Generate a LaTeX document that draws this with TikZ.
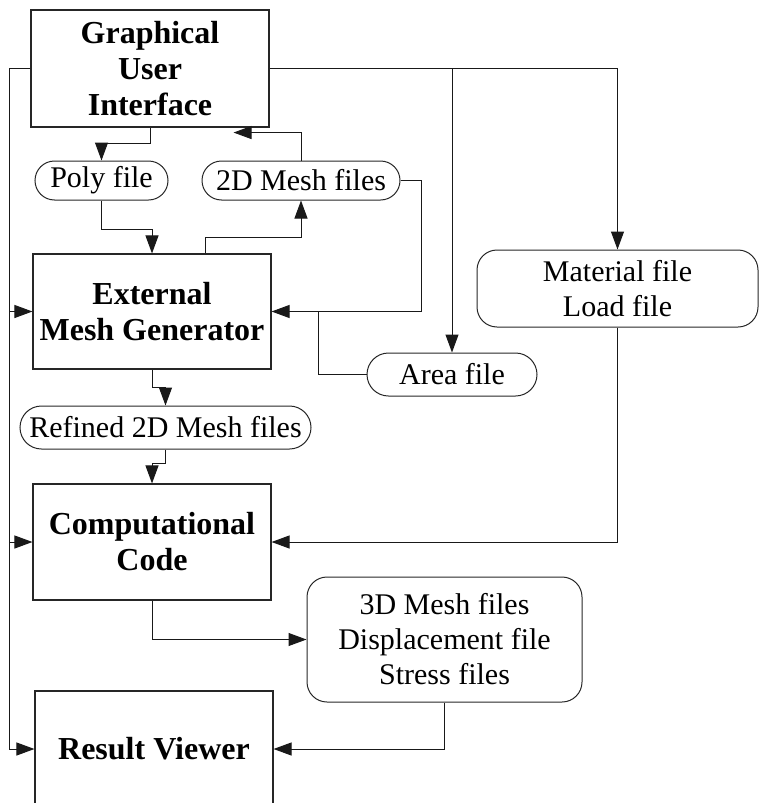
\documentclass[tikz,border=0pt]{standalone}
\usepackage{fontspec}
\setmainfont{Liberation Serif}
\usetikzlibrary{arrows.meta,shapes.misc,calc}

\tikzset{
  block/.style={draw=black!85, line width=1.1pt, rectangle, inner sep=0pt,
    minimum width=238pt, align=center,
    font=\fontsize{32}{36}\selectfont\bfseries},
  filebox/.style={draw=black!85, line width=1pt, rounded corners=20pt,
    inner sep=0pt, align=center, font=\fontsize{30}{35}\selectfont},
  pill/.style={draw=black!85, line width=1pt, rounded rectangle,
    inner sep=0pt, font=\fontsize{30}{35}\selectfont},
  link/.style={draw=black!90, line width=1pt},
  arr/.style={link, -{Triangle[length=18pt,width=13pt]}},
}

\begin{document}
\begin{tikzpicture}[x=1pt,y=-1pt]
\clip (0,0) rectangle (759,803);

% main processing blocks
\node[block, minimum height=117pt] (gui) at (150,68.5) {Graphical\\User\\Interface};
\node[block, minimum height=115pt] (ext) at (152,311.5) {External\\Mesh Generator};
\node[block, minimum height=116pt] (comp) at (152,542) {Computational\\Code};
\node[block, minimum height=116pt] (result) at (154,749) {Result Viewer};

% data files
\node[pill, minimum width=133pt, minimum height=39pt] (poly) at (101.5,180.5) {Poly file};
\node[pill, minimum width=198pt, minimum height=39pt] (mesh2d) at (301,180.5) {2D Mesh files};
\node[pill, minimum width=170pt, minimum height=43pt] (area) at (452,374.5) {Area file};
\node[pill, minimum width=291pt, minimum height=43pt] (refined) at (165.5,427.5) {Refined 2D Mesh files};
\node[filebox, minimum width=281pt, minimum height=77pt] (mat) at (617.5,288.5) {Material file\\Load file};
\node[filebox, minimum width=275pt, minimum height=125pt] (out3d) at (444.5,639.5) {3D Mesh files\\Displacement file\\Stress files};

% GUI outputs
\draw[arr] (gui.south) -- ++(0,16) -| (poly.north);
\draw[arr] (gui.east) -| (mat.north);
\draw[arr] (gui.east -| area.north) -- (area.north);

% left distribution bus from the GUI
\coordinate (bus) at ($(gui.west)+(-21,0)$);
\draw[arr] (gui.west) -- (bus) |- (result.west);
\draw[arr] (bus |- ext.west) -- (ext.west);
\draw[arr] (bus |- comp.west) -- (comp.west);

% mesh generation loop
\draw[arr] (poly.south) -- ++(0,29) -| (ext.north);
\draw[arr] ($(ext.north)+(53,0)$) -- ++(0,-16) -| (mesh2d.south);
\coordinate (guiin) at ($(gui.south east)+(-36,5)$);
\draw[arr] (mesh2d.north) |- (guiin);
\draw[arr] (mesh2d.east) -- ++(21,0) |- (ext.east);
\draw[link] (area.west) -| ($(ext.east)+(47,0)$);

% refinement and computation
\draw[arr] (ext.south) -- ++(0,18) -| (refined.north);
\draw[arr] (refined.south) -- ++(0,14) -| (comp.north);
\draw[arr] (mat.south) |- (comp.east);
\draw[arr] (comp.south) |- (out3d.west);
\draw[arr] (out3d.south) |- (result.east);
\end{tikzpicture}
\end{document}
